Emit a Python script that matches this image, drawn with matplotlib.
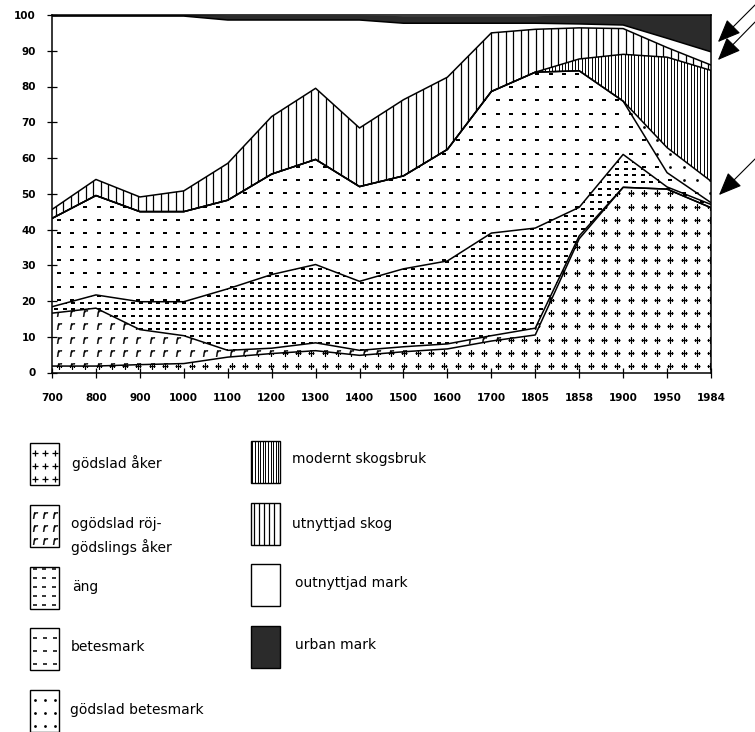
import numpy as np
import matplotlib
matplotlib.use("Agg")
import matplotlib.pyplot as plt
from matplotlib.patches import Rectangle

# ---------------- Data (share of land, %) ----------------
years = ["700", "800", "900", "1000", "1100", "1200", "1300", "1400",
         "1500", "1600", "1700", "1805", "1858", "1900", "1950", "1984"]

godslad_aker      = [1.8, 1.8, 2.2, 2.5, 4.3, 5.3, 6.1, 4.8, 5.8, 6.6, 8.8, 10.5, 37.4, 51.8, 51.3, 46.1]
ogodslad_aker     = [14.8, 16.2, 9.8, 7.8, 1.9, 1.5, 2.2, 1.4, 1.4, 1.4, 1.5, 1.9, 0.8, 0.0, 0.0, 0.0]
ang               = [1.8, 3.7, 7.8, 9.5, 17.2, 20.6, 21.9, 19.3, 21.8, 23.2, 28.7, 28.0, 8.0, 9.2, 0.6, 0.9]
betesmark         = [24.7, 27.8, 25.2, 25.2, 24.8, 28.1, 29.4, 26.5, 26.0, 31.2, 39.6, 43.6, 38.2, 14.9, 4.0, 0.5]
godslad_betesmark = [0, 0, 0, 0, 0, 0, 0, 0, 0, 0, 0, 0, 0, 0, 7.0, 6.0]
modernt_skogsbruk = [0, 0, 0, 0, 0, 0, 0, 0, 0, 0, 0, 0, 3.3, 13.1, 25.3, 31.0]
utnyttjad_skog    = [2.5, 4.5, 4.1, 5.8, 10.3, 16.1, 19.9, 16.4, 21.3, 20.2, 16.4, 12.0, 8.7, 7.2, 2.7, 1.5]
outnyttjad_mark   = [54.1, 45.7, 50.6, 48.9, 40.1, 27.0, 19.1, 30.2, 21.4, 15.1, 2.7, 1.7, 1.1, 1.0, 2.6, 3.7]
urban_mark        = [0.3, 0.3, 0.3, 0.3, 1.2, 1.2, 1.2, 1.2, 2.0, 2.0, 2.0, 2.0, 2.3, 2.7, 6.5, 10.3]

layers = [godslad_aker, ogodslad_aker, ang, betesmark, godslad_betesmark,
          modernt_skogsbruk, utnyttjad_skog, outnyttjad_mark, urban_mark]
kinds = ["plus", "r", "dash_dense", "dash", "dot", "vdense", "vsparse", "blank", "dark"]

# ---------------- Figure / pixel helper axes ----------------
W, H = 755, 732
fig = plt.figure(figsize=(W / 100, H / 100), dpi=100)
lax = fig.add_axes([0, 0, 1, 1])
lax.set_xlim(0, W)
lax.set_ylim(H, 0)
lax.axis("off")

ax = fig.add_axes([52 / W, 1 - 372.5 / H, 659 / W, 357.5 / H])
PLOT_BOX = (52, 15, 711, 373)

# pattern spacing in pixels: (dx, dy) for the chart and for the legend swatches
SPACING = {
    "plus":       ((13.3, 13.3), (10, 13)),
    "r":          ((13.3, 13.3), (10, 13)),
    "dash_dense": ((8.5, 6.7),   (9.5, 9)),
    "dash":       ((13.3, 13.3), (10, 13)),
    "dot":        ((13.3, 13.3), (10, 13)),
    "vdense":     ((3.3, 0),     (2.6, 0)),
    "vsparse":    ((7.5, 0),     (5.2, 0)),
}


def marks(host, clip, tr, box, marker, dx, dy, s, lw):
    x0, y0, x1, y1 = box
    gx, gy = np.meshgrid(np.arange(x0 + dx / 2, x1, dx), np.arange(y1 - dy / 2, y0, -dy))
    sc = host.scatter(gx.ravel(), gy.ravel(), marker=marker, s=s, c="k",
                      linewidths=lw, transform=lax.transData, zorder=2)
    sc.set_clip_path(clip, tr)


def vlines(host, clip, tr, box, dx, lw):
    x0, y0, x1, y1 = box
    lc = host.vlines(np.arange(x0 + dx / 2, x1, dx), y0, y1, colors="k",
                     linewidth=lw, transform=lax.transData, zorder=2)
    lc.set_clip_path(clip, tr)


def decorate(host, kind, clip, tr, box, legend=False):
    if kind not in SPACING:
        return
    dx, dy = SPACING[kind][1 if legend else 0]
    if kind == "plus":
        marks(host, clip, tr, box, "+", dx, dy, 22, 0.9)
    elif kind == "r":
        marks(host, clip, tr, box, "$r$", dx, dy, 22, 0.3)
    elif kind == "dash_dense":
        marks(host, clip, tr, box, "_", dx, dy, 7, 1.1)
    elif kind == "dash":
        marks(host, clip, tr, box, "_", dx, dy, 7, 1.1)
    elif kind == "dot":
        marks(host, clip, tr, box, "o", dx, dy, 4, 0)
    elif kind == "vdense":
        vlines(host, clip, tr, box, dx, 0.7)
    elif kind == "vsparse":
        vlines(host, clip, tr, box, dx, 0.9)


# ---------------- Stacked areas ----------------
x = np.arange(len(years))
tops = np.cumsum(np.array(layers, dtype=float), axis=0)
bottoms = np.vstack([np.zeros(len(x)), tops[:-1]])

for i, kind in enumerate(kinds):
    face = "#2b2b2b" if kind == "dark" else "white"
    coll = ax.fill_between(x, bottoms[i], tops[i], facecolor=face, edgecolor="none", lw=0, zorder=1)
    decorate(ax, kind, coll.get_paths()[0], ax.transData, PLOT_BOX)

for i in range(len(layers) - 1):
    ax.plot(x, tops[i], color="k", lw=1.1, zorder=3)

ax.set_xlim(0, len(years) - 1)
ax.set_ylim(0, 100)
ax.set_xticks(x, years)
ax.set_yticks(range(0, 101, 10))
ax.tick_params(direction="inout", length=7, width=0.9, labelsize=7.5)
ax.tick_params(axis="x", pad=11)
ax.tick_params(axis="y", pad=8)
for lbl in ax.get_xticklabels() + ax.get_yticklabels():
    lbl.set_fontweight("bold")
for sp in ax.spines.values():
    sp.set_linewidth(1.1)

# ---------------- Arrows on the right ----------------
arrow_kw = dict(arrowstyle="-|>,head_length=1.2,head_width=0.5", color="k", lw=0.8, mutation_scale=12)
lax.annotate("", xy=(716, 44), xytext=(757, 3), arrowprops=arrow_kw, annotation_clip=False)
lax.annotate("", xy=(716, 62), xytext=(757, 20), arrowprops=arrow_kw, annotation_clip=False)
lax.annotate("", xy=(717, 197), xytext=(757, 157), arrowprops=arrow_kw, annotation_clip=False)

# ---------------- Legend ----------------
legend_items = [
    ("plus", 30, 443, "gödslad åker", 72, 463),
    ("r", 30, 505, "ogödslad röj-\ngödslings åker", 71, 536),
    ("dash_dense", 30, 567, "äng", 72, 587),
    ("dash", 30, 628, "betesmark", 71, 647),
    ("dot", 30, 690, "gödslad betesmark", 70, 710),
    ("vdense", 251, 441, "modernt skogsbruk", 292, 459),
    ("vsparse", 251, 503, "utnyttjad skog", 292, 524),
    ("blank", 251, 564, "outnyttjad mark", 295, 583),
    ("dark", 251, 626, "urban mark", 295, 645),
]
for kind, bx, by, label, tx, ty in legend_items:
    face = "#2b2b2b" if kind == "dark" else "white"
    rect = Rectangle((bx, by), 29, 42, facecolor=face, edgecolor="none", zorder=1)
    lax.add_patch(rect)
    decorate(lax, kind, rect, None, (bx, by, bx + 29, by + 42), legend=True)
    lax.add_patch(Rectangle((bx, by), 29, 42, facecolor="none", edgecolor="k", lw=1.0, zorder=3))
    lax.text(tx, ty, label, fontsize=10, va="center", ha="left", linespacing=1.55)

fig.savefig("out.png", dpi=100)
